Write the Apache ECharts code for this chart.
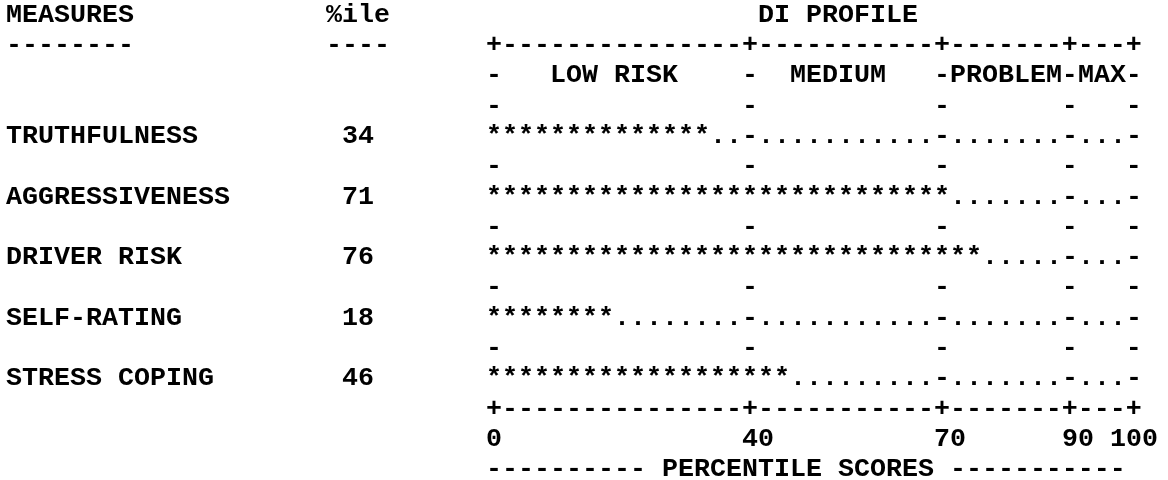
<!DOCTYPE html>
<html><head><meta charset="utf-8">
<script src="https://cdn.jsdelivr.net/npm/echarts@6/dist/echarts.min.js"></script>
<style>html,body{margin:0;padding:0;background:#fff}#chart{width:1168px;height:480px}</style>
</head><body><div id="chart"></div>
<script>
// ---- data ----
const categories = ['TRUTHFULNESS', 'AGGRESSIVENESS', 'DRIVER RISK', 'SELF-RATING', 'STRESS COPING'];
const percentiles = [34, 71, 76, 18, 46];
const tickValues = [0, 40, 70, 90, 100];
const tickLabels = ['0', '40', '70', '90', '100'];
const zoneNames = ['LOW RISK', 'MEDIUM', 'PROBLEM', 'MAX'];
const headerMeasures = 'MEASURES';
const headerPct = '%ile';
const profileTitle = 'DI PROFILE';
const axisTitle = 'PERCENTILE SCORES';

// ---- layout (character grid) ----
const STEP = 2.5;          // percentile points per character cell
const PROFILE_COL = 30;    // text column where the profile (0 %ile) starts
const PCT_COL = 20;        // text column of %ile
const NCELLS = 100 / STEP; // 40
const ROWS = 15;
const FONT = 'bold 26.67px "Liberation Mono", "Courier New", monospace';

function cellPct(col) { return (col - PROFILE_COL) * STEP; }
function txt(api, col, row, s, align) {
  const edge = align === 'right' ? cellPct(col) + STEP / 2 : cellPct(col) - STEP / 2;
  const p = api.coord([edge, row]);
  return { type: 'text', style: { x: p[0], y: p[1], text: s, fill: '#000', font: FONT,
    align: align || 'left', verticalAlign: 'middle' } };
}
function isTick(c) { return tickValues.indexOf(c * STEP) >= 0; }
function ruler(ch) {
  let s = '';
  for (let c = 0; c <= NCELLS; c++) s += isTick(c) ? ch : (ch === '+' ? '-' : ' ');
  return s;
}

function renderStatic(params, api) {
  const ch = [];
  // row 0
  ch.push(txt(api, 0, 0, headerMeasures));
  ch.push(txt(api, PCT_COL, 0, headerPct));
  ch.push(txt(api, PROFILE_COL + 17, 0, profileTitle));
  // row 1
  ch.push(txt(api, 0, 1, '-'.repeat(headerMeasures.length)));
  ch.push(txt(api, PCT_COL, 1, '-'.repeat(headerPct.length)));
  ch.push(txt(api, PROFILE_COL, 1, ruler('+')));
  // row 2: zone names
  ch.push(txt(api, PROFILE_COL, 2, ruler('-')));
  const tickCols = tickValues.map(v => v / STEP);
  zoneNames.forEach((z, i) => {
    const a = tickCols[i] + 1, b = tickCols[i + 1] - 1;
    const start = a + Math.floor((b - a + 1 - z.length) / 2);
    ch.push(txt(api, PROFILE_COL + start, 2, z));
  });
  // separator rows
  for (let r = 3; r <= 11; r += 2) ch.push(txt(api, PROFILE_COL, r, ruler('-')));
  // bottom ruler
  ch.push(txt(api, PROFILE_COL, 13, ruler('+')));
  // tick labels
  tickValues.forEach((v, i) => {
    const lab = tickLabels[i];
    const c = PROFILE_COL + v / STEP - Math.floor((lab.length - 1) / 2);
    ch.push(txt(api, c, 14, lab));
  });
  ch.push(txt(api, PROFILE_COL, 15, '-'.repeat(10) + ' ' + axisTitle + ' ' + '-'.repeat(11)));
  return { type: 'group', children: ch };
}

function renderMeasure(params, api) {
  const val = api.value(0);
  const i = api.value(1);
  const row = 4 + 2 * i;
  const ch = [];
  ch.push(txt(api, 0, row, categories[i]));
  ch.push(txt(api, PCT_COL + 1, row, String(val)));
  for (let c = 0; c <= NCELLS; c++) {
    const v = c * STEP;
    const s = v <= val ? '*' : (isTick(c) ? '-' : '.');
    const p = api.coord([v, row]);
    ch.push({ type: 'text', style: { x: p[0], y: p[1], text: s, fill: '#000', font: FONT,
      align: 'center', verticalAlign: 'middle' } });
  }
  return { type: 'group', children: ch };
}

const chart = echarts.init(document.getElementById('chart'), null, { renderer: 'canvas' });
const TOP = 15, PITCH = 30.3;
chart.setOption({
  backgroundColor: '#fff',
  animation: false,
  grid: { left: 14, width: 1120, top: TOP, height: PITCH * ROWS },
  xAxis: { type: 'value', min: cellPct(0), max: 100, show: false },
  yAxis: { type: 'value', min: 0, max: ROWS, inverse: true, show: false },
  series: [
    { type: 'custom', silent: true, clip: false, renderItem: renderStatic, data: [[0, 0]] },
    { type: 'custom', silent: true, clip: false, renderItem: renderMeasure,
      data: percentiles.map((p, i) => [p, i]) }
  ]
});
</script></body></html>
